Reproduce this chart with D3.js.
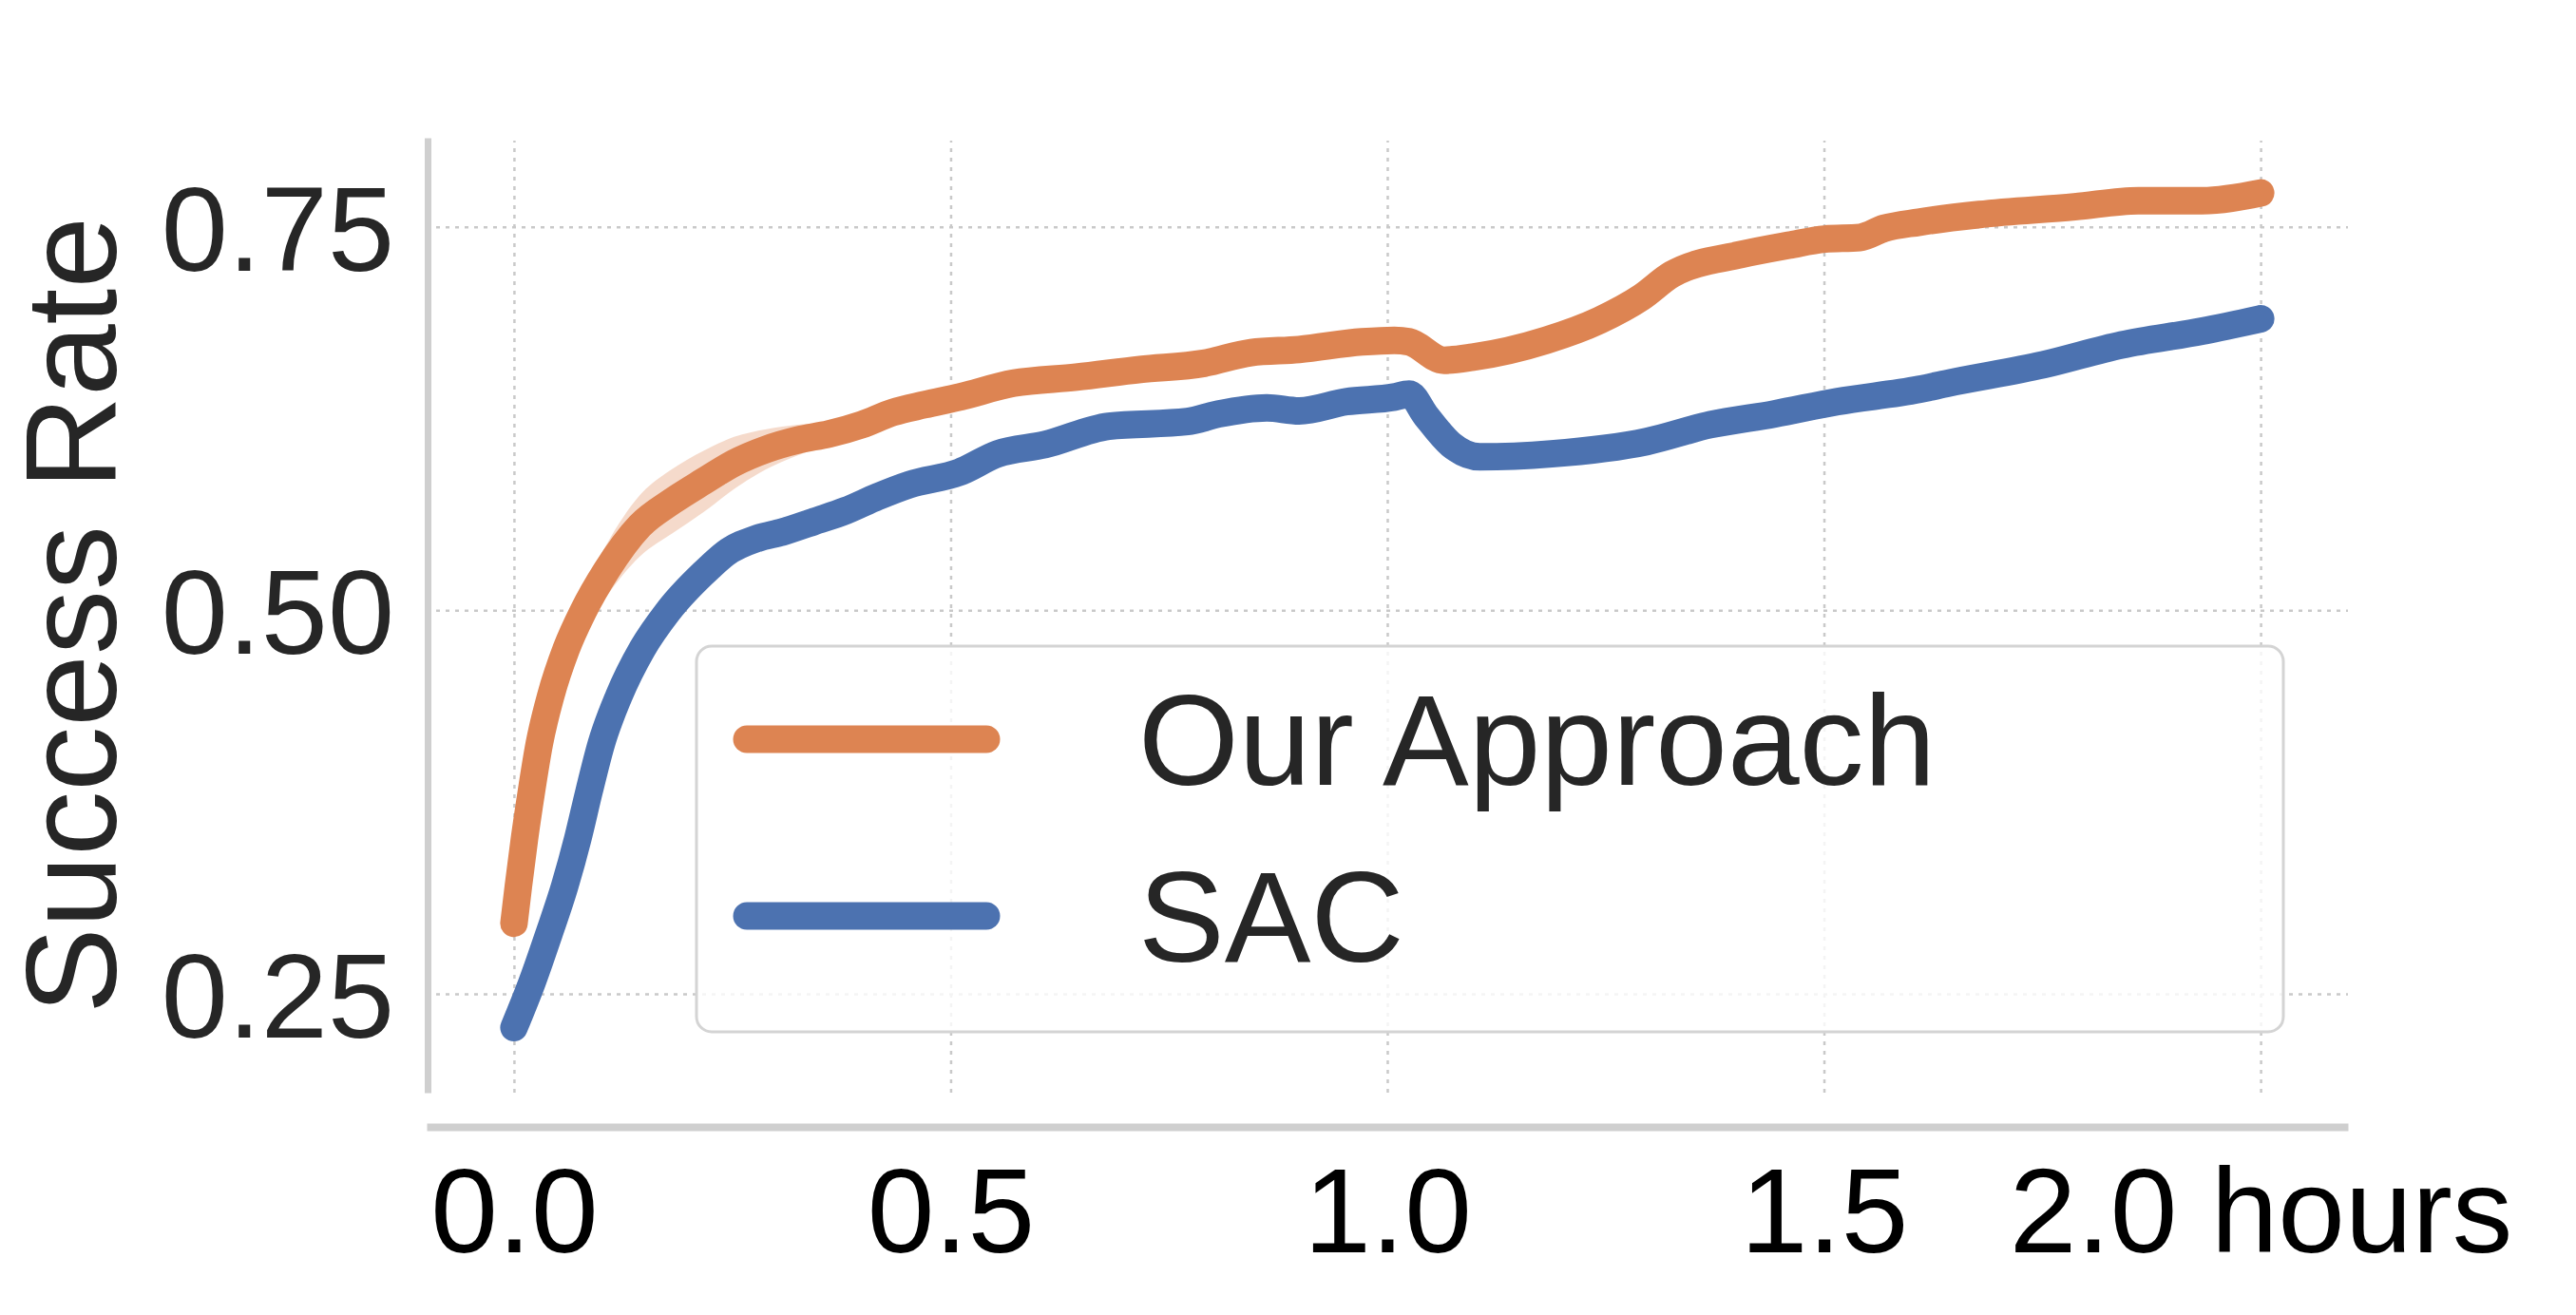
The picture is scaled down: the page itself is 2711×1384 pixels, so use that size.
<!DOCTYPE html>
<html>
<head>
<meta charset="utf-8">
<script src="https://cdn.jsdelivr.net/npm/d3@7"></script>
<style>
  body { margin: 0; background: #fff; }
  text { font-family: "Liberation Sans", Arial, Helvetica, sans-serif; }
</style>
</head>
<body>
<div id="chart"></div>
<script>
// data (hours of training vs. success rate)
var ourHours = [0.000, 0.005, 0.012, 0.020, 0.029, 0.042, 0.060, 0.079, 0.106, 0.144, 0.181, 0.217,
  0.252, 0.289, 0.325, 0.361, 0.398, 0.434, 0.470, 0.510, 0.572, 0.644, 0.717, 0.790, 0.844, 0.899,
  0.971, 1.008, 1.025, 1.065, 1.098, 1.182, 1.243, 1.291, 1.326, 1.406, 1.460, 1.501, 1.541, 1.569,
  1.609, 1.678, 1.787, 1.860, 1.933, 2.000];
var ourRate = [0.296, 0.320, 0.351, 0.382, 0.413, 0.444, 0.475, 0.499, 0.526, 0.555, 0.571, 0.584,
  0.596, 0.605, 0.611, 0.615, 0.621, 0.629, 0.634, 0.639, 0.648, 0.652, 0.657, 0.661, 0.668, 0.670,
  0.675, 0.676, 0.675, 0.663, 0.665, 0.676, 0.689, 0.704, 0.719, 0.732, 0.738, 0.742, 0.743, 0.749,
  0.753, 0.758, 0.763, 0.767, 0.767, 0.772];
var ourSpread = [0.003, 0.004, 0.005, 0.006, 0.008, 0.010, 0.012, 0.014, 0.017, 0.020, 0.021, 0.020,
  0.017, 0.013, 0.010, 0.007, 0.005, 0.004, 0.003, 0.003, 0.002, 0.002, 0.002, 0.002, 0.002, 0.002,
  0.002, 0.002, 0.002, 0.002, 0.002, 0.002, 0.002, 0.002, 0.002, 0.002, 0.002, 0.002, 0.002, 0.002,
  0.002, 0.002, 0.002, 0.002, 0.002, 0.002];

var sacHours = [0.000, 0.021, 0.040, 0.058, 0.073, 0.086, 0.100, 0.120, 0.147, 0.176, 0.224, 0.242,
  0.279, 0.307, 0.344, 0.380, 0.416, 0.453, 0.510, 0.554, 0.608, 0.681, 0.771, 0.807, 0.862, 0.899,
  0.953, 1.008, 1.025, 1.044, 1.073, 1.106, 1.188, 1.297, 1.370, 1.443, 1.515, 1.609, 1.642, 1.751,
  1.841, 1.933, 2.000];
var sacRate = [0.228, 0.258, 0.289, 0.320, 0.351, 0.382, 0.413, 0.444, 0.475, 0.499, 0.528, 0.537,
  0.547, 0.551, 0.558, 0.565, 0.574, 0.582, 0.590, 0.602, 0.608, 0.620, 0.623, 0.628, 0.632, 0.630,
  0.636, 0.639, 0.641, 0.627, 0.608, 0.600, 0.602, 0.610, 0.621, 0.628, 0.636, 0.644, 0.648, 0.660,
  0.673, 0.682, 0.690];

var xTicks = [0, 0.5, 1.0, 1.5, 2.0];
var xTickLabels = ["0.0", "0.5", "1.0", "1.5", "2.0 hours"];
var yTicks = [0.25, 0.50, 0.75];
var yTickLabels = ["0.25", "0.50", "0.75"];
var seriesNames = ["Our Approach", "SAC"];
var seriesColors = ["#dd8452", "#4c72b0"];

var svgWidth = 2711;
var svgHeight = 1384;

// plot area in pixels
var plot = { left: 449, right: 2471, top: 145, bottom: 1150 };

var svg = d3.select("#chart")
  .append("svg")
  .attr("width", svgWidth)
  .attr("height", svgHeight);

svg.append("rect").attr("width", svgWidth).attr("height", svgHeight).attr("fill", "#fff");

var x = d3.scaleLinear().domain([-0.1, 2.1]).range([plot.left, plot.right]);
var y = d3.scaleLinear().domain([0.1856, 0.808]).range([plot.bottom, plot.top]);

// dotted grid
var gridX = svg.append("g")
  .attr("transform", `translate(0, ${plot.bottom})`)
  .call(d3.axisBottom(x).tickValues(xTicks).tickSize(-(plot.bottom - plot.top - 3)).tickFormat(""));
var gridY = svg.append("g")
  .attr("transform", `translate(${plot.left}, 0)`)
  .call(d3.axisLeft(y).tickValues(yTicks).tickSize(-(plot.right - plot.left)).tickFormat(""));
[gridX, gridY].forEach(function(g) {
  g.select(".domain").remove();
  g.selectAll(".tick line")
    .attr("stroke", "#c9c9c9")
    .attr("stroke-width", 2.5)
    .attr("stroke-dasharray", "4,6");
});

// spines + tick labels
var xAxis = svg.append("g")
  .attr("transform", `translate(0, 1186)`)
  .call(d3.axisBottom(x).tickValues(xTicks).tickSize(0).tickPadding(42)
    .tickFormat(function(d, i) { return xTickLabels[i]; }));
xAxis.select(".domain").attr("stroke", "#cfcfcf").attr("stroke-width", 8);
xAxis.selectAll("text").attr("font-size", 127).attr("fill", "#000");

var yAxis = svg.append("g")
  .attr("transform", `translate(${plot.left + 1}, 0)`)
  .call(d3.axisLeft(y).tickValues(yTicks).tickSize(0).tickPadding(35)
    .tickFormat(function(d, i) { return yTickLabels[i]; }));
yAxis.select(".domain").attr("stroke", "#cfcfcf").attr("stroke-width", 7);
yAxis.selectAll("text").attr("font-size", 126).attr("fill", "#262626").attr("dy", "0.36em");

// y axis title
svg.append("text")
  .attr("transform", `translate(122, ${(plot.top + plot.bottom) / 2}) rotate(-90)`)
  .attr("text-anchor", "middle")
  .attr("font-size", 136)
  .attr("fill", "#262626")
  .text("Success Rate");

// shaded spread for our approach
var area = d3.area()
  .x(function(d) { return x(d.h); })
  .y0(function(d) { return y(d.v - d.s); })
  .y1(function(d) { return y(d.v + d.s); })
  .curve(d3.curveMonotoneX);

var ourData = ourHours.map(function(h, i) { return { h: h, v: ourRate[i], s: ourSpread[i] }; });
var sacData = sacHours.map(function(h, i) { return { h: h, v: sacRate[i], s: 0 }; });

svg.append("path")
  .datum(ourData)
  .attr("d", area)
  .attr("fill", seriesColors[0])
  .attr("opacity", 0.3);

var line = d3.line()
  .x(function(d) { return x(d.h); })
  .y(function(d) { return y(d.v); })
  .curve(d3.curveMonotoneX);

[sacData, ourData].forEach(function(data, k) {
  svg.append("path")
    .datum(data)
    .attr("d", line)
    .attr("fill", "none")
    .attr("stroke", k === 0 ? seriesColors[1] : seriesColors[0])
    .attr("stroke-width", 29)
    .attr("stroke-linecap", "round")
    .attr("stroke-linejoin", "round");
});

// legend
var legend = svg.append("g").attr("transform", "translate(733, 680)");
legend.append("rect")
  .attr("width", 1670)
  .attr("height", 406)
  .attr("rx", 16)
  .attr("fill", "#fff")
  .attr("fill-opacity", 0.8)
  .attr("stroke", "#d4d4d4")
  .attr("stroke-width", 3);

seriesNames.forEach(function(name, i) {
  var ly = 98 + i * 186;
  legend.append("line")
    .attr("x1", 53).attr("x2", 305)
    .attr("y1", ly).attr("y2", ly)
    .attr("stroke", seriesColors[i])
    .attr("stroke-width", 29)
    .attr("stroke-linecap", "round");
  legend.append("text")
    .attr("x", 465)
    .attr("y", ly + 48)
    .attr("font-size", 136)
    .attr("fill", "#262626")
    .text(name);
});
</script>
</body>
</html>
